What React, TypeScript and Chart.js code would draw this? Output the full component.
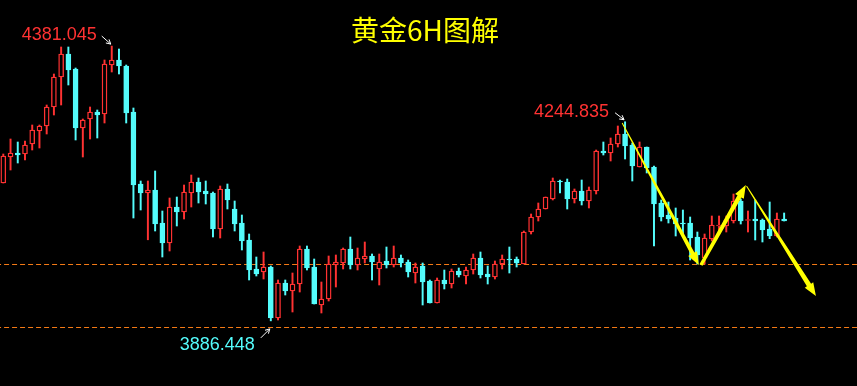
import { useEffect, useRef } from 'react';
import { Chart, registerables } from 'chart.js';

Chart.register(...registerables);

// ---- data (6H gold candles) ----
const opens = [
  4134.6, 4181.4, 4188.6, 4186.8, 4204.8, 4228.2, 4237.2, 4271.4, 4325.4, 4366.8,
  4339.8, 4233.6, 4249.8, 4262.4, 4258.8, 4347, 4356, 4345.2, 4262.4, 4132.8,
  4116.6, 4122, 4062.6, 4026.6, 4091.4, 4082.4, 4116.6, 4136.4, 4120.2, 4116.6,
  4051.8, 4123.8, 4087.8, 4062.6, 4032, 3979.8, 3974.4, 3983.4, 3891.6, 3954.6,
  3940.2, 3952.8, 4015.8, 3983.4, 3915, 3925.8, 3987, 3990.6, 4015.8, 3987,
  3997.8, 4003.2, 3979.8, 3994.2, 3987, 3999.6, 3992.4, 3972.6, 3985.2, 3958.2,
  3918.6, 3960, 3952.8, 3976.2, 3967.2, 3978, 3999.6, 3970.8, 3965.4, 3988.8,
  3997.8, 3997.8, 3988.8, 4046.4, 4073.4, 4087.8, 4105.8, 4138.2, 4136.4, 4105.8,
  4120.2, 4102.2, 4120.2, 4192.2, 4188.6, 4204.8, 4222.8, 4203, 4163.4, 4199.4,
  4163.4, 4098.6, 4077, 4071.6, 4062.6, 4062.6, 4037.4, 3999.6, 4033.8, 4057.2,
  4057.2, 4066.2, 4102.2, 4067.1, 4069.8, 4068, 4051.8, 4039.2, 4069.8,
];
const closes = [
  4183.2, 4188.6, 4185, 4203, 4230, 4237.2, 4271.4, 4325.4, 4366.8, 4338,
  4233.6, 4248, 4262.4, 4257, 4348.8, 4356, 4345.2, 4260.6, 4131, 4116.6,
  4122, 4060.8, 4026.6, 4091.4, 4082.4, 4118.4, 4136.4, 4118.4, 4114.8, 4051.8,
  4123.8, 4104, 4060.8, 4030.2, 3978, 3970.8, 3983.4, 3891.6, 3954.6, 3940.2,
  3952.8, 4015.8, 3981.6, 3916.8, 3925.8, 3988.8, 3992.4, 4015.8, 3987, 3999.6,
  4003.2, 3992.4, 3992.4, 3987, 3999.6, 3990.6, 3974.4, 3983.4, 3956.4, 3918.6,
  3960, 3952.8, 3976.2, 3969, 3978, 3999.6, 3969, 3965.4, 3988.8, 3997.8,
  3996, 3990.6, 4046.4, 4073.4, 4087.8, 4109.4, 4138.2, 4136.4, 4105.8, 4120.2,
  4102.2, 4122, 4192.2, 4188.6, 4204.8, 4222.8, 4201.2, 4165.2, 4199.4, 4161.6,
  4096.8, 4073.4, 4069.8, 4060.8, 4060.8, 4035.6, 4005, 4035.6, 4059, 4059,
  4068, 4102.2, 4066.2, 4068.9, 4066.2, 4050, 4039.2, 4069.8, 4066.2,
];
const highs = [
  4186.8, 4213.8, 4208.4, 4210.2, 4239, 4239, 4275, 4330.8, 4379.4, 4379.4,
  4341.6, 4249.8, 4271.4, 4266, 4356, 4381.045, 4375.8, 4347, 4269.6, 4138.2,
  4138.2, 4156.2, 4084.2, 4107.6, 4109.4, 4131, 4149, 4143.6, 4138.2, 4118.4,
  4129.2, 4132.8, 4102.2, 4077, 4042.8, 4001.4, 4010.4, 3985.2, 3960, 3960,
  3972.6, 4021.2, 4021.2, 3997.8, 3956.4, 4003.2, 4005, 4017.6, 4037.4, 4017.6,
  4028.4, 4006.8, 4006.8, 4019.4, 4021.2, 4005, 3996, 3990.6, 3990.6, 3960,
  3963.6, 3978, 3979.8, 3981.6, 3983.4, 4006.8, 4010.4, 3985.2, 3994.2, 4005,
  4019.4, 4001.4, 4048.2, 4078.8, 4098.6, 4109.4, 4143.6, 4140, 4141.8, 4123.8,
  4140, 4127.4, 4194, 4208.4, 4215.6, 4237.2, 4244.835, 4206.6, 4208.4, 4199.4,
  4165.2, 4104, 4100.4, 4089.6, 4086, 4073.4, 4046.4, 4042.8, 4075.2, 4075.2,
  4075.2, 4114.8, 4105.8, 4084.2, 4104, 4069.8, 4100.4, 4080.6, 4080.6,
];
const lows = [
  4134.6, 4158, 4170.6, 4176, 4194, 4197.6, 4222.8, 4257, 4275, 4311,
  4212, 4181.4, 4213.8, 4215.6, 4242.6, 4334.4, 4330.8, 4242.6, 4071.6, 4086,
  4032.4, 4048.2, 4001.4, 4012.2, 4057.2, 4069.8, 4091.4, 4098.6, 4096.8, 4037.4,
  4035.6, 4087.8, 4048.2, 4014, 3960, 3967.2, 3961.8, 3886.448, 3888, 3933,
  3902.4, 3938.4, 3978, 3916.8, 3900.6, 3922.2, 3947.4, 3979.8, 3979.8, 3978,
  3990.6, 3960, 3951, 3981.6, 3983.4, 3983.4, 3965.4, 3954.6, 3915, 3918.6,
  3918.6, 3943.8, 3945.6, 3965.4, 3952.8, 3970.8, 3963.6, 3952.8, 3961.8, 3979.8,
  3972.6, 3983.4, 3988.8, 4042.8, 4066.2, 4087.8, 4104, 4116.6, 4087.8, 4098.6,
  4095, 4089.6, 4114.8, 4185, 4174.2, 4199.4, 4177.8, 4138.2, 4163.4, 4152.6,
  4021.2, 4066.2, 4062.6, 4039.2, 4037.4, 3996, 3988.8, 3988.8, 4030.2, 4046.4,
  4046.4, 4062.6, 4060.8, 4046.4, 4032, 4028.4, 4034.4, 4037.4, 4066.2,
];

// horizontal support levels (dashed)
const levelPrices = [3987.9, 3874.5];

// marked extremes
const peakLabels = ['4381.045', '4244.835', '3886.448'];
const peakIndex = [15, 86, 37];
const peakPrice = [4381.045, 4244.835, 3886.448];

// yellow forecast arrows (candle index / price)
const arrowStartX = [85.6, 96.5, 102.8];
const arrowStartY = [4242.6, 3987, 4129.2];
const arrowEndX = [96.2, 102.7, 112.4];
const arrowEndY = [3987, 4131, 3931.2];

const titleText = '黄金6H图解';

const RED = '#ff3232';
const CYAN = '#54fcfc';
const ORANGE = '#f47a16';
const YELLOW = '#ffff00';

export default function App() {
  const ref = useRef<HTMLCanvasElement>(null);

  useEffect(() => {
    document.body.style.margin = '0';
    document.body.style.background = '#000';
    const up = opens.map((o, i) => closes[i] >= o);
    const bodyData = opens.map((o, i) => ({ x: i, y: [o, closes[i]] }));
    const wickData = lows.map((l, i) => ({ x: i, y: [l, highs[i]] }));

    const overlay = {
      id: 'overlay',
      afterDatasetsDraw(chart: any) {
        const ctx = chart.ctx as CanvasRenderingContext2D;
        const xs = chart.scales.x;
        const ys = chart.scales.y;
        ctx.save();

        // yellow tapered arrows
        const tw0 = [1, 3.5, 1];
        const tw1 = [4, 4.5, 5];
        for (let k = 0; k < arrowStartX.length; k++) {
          const x0 = xs.getPixelForValue(arrowStartX[k]);
          const y0 = ys.getPixelForValue(arrowStartY[k]);
          const x1 = xs.getPixelForValue(arrowEndX[k]);
          const y1 = ys.getPixelForValue(arrowEndY[k]);
          const len = Math.hypot(x1 - x0, y1 - y0);
          const ux = (x1 - x0) / len, uy = (y1 - y0) / len;
          const nx = -uy, ny = ux;
          const hl = 13, hw = 10;
          const sx = x1 - ux * hl, sy = y1 - uy * hl;
          const a = tw0[k] / 2, b = tw1[k] / 2;
          ctx.beginPath();
          ctx.moveTo(x0 + nx * a, y0 + ny * a);
          ctx.lineTo(sx + nx * b, sy + ny * b);
          ctx.lineTo(sx + nx * hw / 2, sy + ny * hw / 2);
          ctx.lineTo(x1, y1);
          ctx.lineTo(sx - nx * hw / 2, sy - ny * hw / 2);
          ctx.lineTo(sx - nx * b, sy - ny * b);
          ctx.lineTo(x0 - nx * a, y0 - ny * a);
          ctx.closePath();
          ctx.fillStyle = YELLOW;
          ctx.fill();
        }

        // price labels with small white pointers
        const textDX = [-15, -16, -16];
        const textDY = [-6, -5, 29];
        const arrFrom = [[-10, -10], [-10, -9], [-10, 17]];
        const arrTo = [[-1, -2], [-1, -2], [-1, 8]];
        const colors = [RED, RED, CYAN];
        ctx.font = '18px "Liberation Sans", Arial, sans-serif';
        ctx.textAlign = 'right';
        ctx.textBaseline = 'alphabetic';
        for (let k = 0; k < peakLabels.length; k++) {
          const px = xs.getPixelForValue(peakIndex[k]);
          const py = ys.getPixelForValue(peakPrice[k]);
          ctx.fillStyle = colors[k];
          ctx.fillText(peakLabels[k], px + textDX[k], py + textDY[k]);
          const fx = px + arrFrom[k][0], fy = py + arrFrom[k][1];
          const tx = px + arrTo[k][0], ty = py + arrTo[k][1];
          ctx.strokeStyle = '#ffffff';
          ctx.lineWidth = 1;
          ctx.beginPath();
          ctx.moveTo(fx, fy);
          ctx.lineTo(tx, ty);
          const ang = Math.atan2(ty - fy, tx - fx);
          const h = 5;
          ctx.moveTo(tx, ty);
          ctx.lineTo(tx - h * Math.cos(ang - 0.5), ty - h * Math.sin(ang - 0.5));
          ctx.moveTo(tx, ty);
          ctx.lineTo(tx - h * Math.cos(ang + 0.5), ty - h * Math.sin(ang + 0.5));
          ctx.stroke();
        }

        // title
        ctx.font = '28px "Noto Sans CJK SC", sans-serif';
        ctx.textAlign = 'center';
        ctx.textBaseline = 'middle';
        ctx.fillStyle = YELLOW;
        ctx.fillText(titleText, 425, 30);
        ctx.restore();
      },
    };

    const chart = new Chart(ref.current!, {
      type: 'bar',
      data: {
        datasets: [
          {
            type: 'bar',
            data: bodyData as any,
            backgroundColor: up.map((u) => (u ? '#000000' : CYAN)),
            borderColor: up.map((u) => (u ? RED : CYAN)),
            borderWidth: 1.4,
            borderSkipped: false,
            barThickness: 5,
            grouped: false,
            order: 0,
          } as any,
          {
            type: 'bar',
            data: wickData as any,
            backgroundColor: up.map((u) => (u ? RED : CYAN)),
            borderWidth: 0,
            barThickness: 1.3,
            grouped: false,
            order: 1,
          } as any,
          ...levelPrices.map((p) => ({
            type: 'line',
            data: [{ x: -1, y: p }, { x: 120, y: p }],
            borderColor: ORANGE,
            borderWidth: 1,
            borderDash: [5, 3],
            pointRadius: 0,
            order: 2,
          } as any)),
        ],
      },
      options: {
        responsive: false,
        animation: false,
        layout: { padding: 0 },
        plugins: { legend: { display: false }, tooltip: { enabled: false }, title: { display: false } },
        scales: {
          x: { type: 'linear', min: -0.456, max: 118.08, offset: false, bounds: 'ticks', display: false, grid: { offset: false } },
          y: { type: 'linear', min: 3769.2, max: 4464, display: false },
        },
      },
      plugins: [overlay],
    });
    return () => chart.destroy();
  }, []);

  return (
    <div style={{ width: 857, height: 386, background: '#000' }}>
      <canvas ref={ref} width={857} height={386} style={{ display: 'block' }} />
    </div>
  );
}
